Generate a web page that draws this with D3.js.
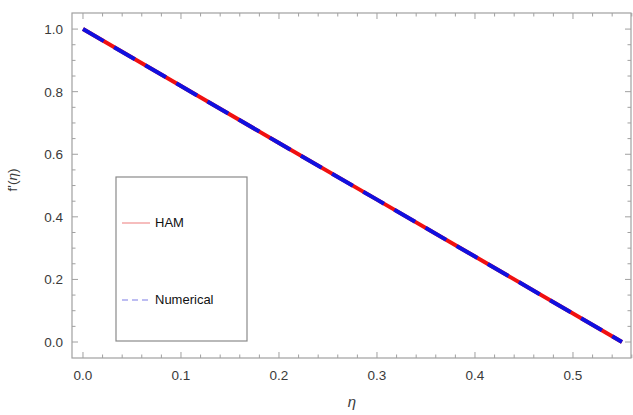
<!DOCTYPE html>
<html>
<head>
<meta charset="utf-8">
<script src="https://cdn.jsdelivr.net/npm/d3@7"></script>
<style>
  body { margin: 0; background: #fff; }
  text { font-family: "Liberation Sans", Arial, sans-serif; }
</style>
</head>
<body>
<svg id="chart" width="633" height="415"></svg>
<script>
// data: f'(eta) falls linearly from 1 at 0 to 0 at 0.55
const etaHAM = [0, 0.1, 0.2, 0.3, 0.4, 0.5, 0.55];
const fHAM = [1.0, 0.818, 0.636, 0.455, 0.273, 0.091, 0.0];
const etaNum = [0, 0.1, 0.2, 0.3, 0.4, 0.5, 0.55];
const fNum = [1.0, 0.818, 0.636, 0.455, 0.273, 0.091, 0.0];
const xTicks = [0, 0.1, 0.2, 0.3, 0.4, 0.5];
const yTicks = [0, 0.2, 0.4, 0.6, 0.8, 1.0];
const legendLabels = ['HAM', 'Numerical'];

const svg = d3.select('#chart');
const pLeft = 72, pRight = 631, pTop = 13, pBottom = 358;

const x = d3.scaleLinear().domain([-0.0112, 0.5592]).range([pLeft, pRight]);
const y = d3.scaleLinear().domain([-0.0511, 1.0514]).range([pBottom, pTop]);

const frameColor = '#a0a0a0';

// frame
svg.append('rect')
  .attr('x', pLeft).attr('y', pTop)
  .attr('width', pRight - pLeft).attr('height', pBottom - pTop)
  .attr('fill', 'none').attr('stroke', frameColor).attr('stroke-width', 1.2);

// ticks on all four sides, pointing inward
const xMinor = d3.range(0, 0.561, 0.02).filter(v => !xTicks.some(t => Math.abs(t - v) < 1e-6));
const yMinor = d3.range(0, 1.001, 0.05).filter(v => !yTicks.some(t => Math.abs(t - v) < 1e-6));

const tickG = svg.append('g').attr('stroke', frameColor).attr('stroke-width', 1);
function xTick(v, len) {
  tickG.append('line').attr('x1', x(v)).attr('x2', x(v)).attr('y1', pBottom).attr('y2', pBottom - len);
  tickG.append('line').attr('x1', x(v)).attr('x2', x(v)).attr('y1', pTop).attr('y2', pTop + len);
}
function yTick(v, len) {
  tickG.append('line').attr('y1', y(v)).attr('y2', y(v)).attr('x1', pLeft).attr('x2', pLeft + len);
  tickG.append('line').attr('y1', y(v)).attr('y2', y(v)).attr('x1', pRight).attr('x2', pRight - len);
}
xTicks.forEach(v => xTick(v, 6));
xMinor.forEach(v => xTick(v, 3.5));
yTicks.forEach(v => yTick(v, 6));
yMinor.forEach(v => yTick(v, 3.5));

// tick labels
const labelColor = '#3a3a3a';
svg.append('g').selectAll('text').data(xTicks).join('text')
  .attr('x', d => x(d)).attr('y', pBottom + 22)
  .attr('text-anchor', 'middle')
  .attr('font-size', 13.5).attr('fill', labelColor)
  .text(d => d3.format('.1f')(d));

svg.append('g').selectAll('text').data(yTicks).join('text')
  .attr('x', pLeft - 9).attr('y', d => y(d) + 5)
  .attr('text-anchor', 'end')
  .attr('font-size', 13.5).attr('fill', labelColor)
  .text(d => d3.format('.1f')(d));

// axis titles
svg.append('text')
  .attr('x', 352).attr('y', 407)
  .attr('text-anchor', 'middle')
  .attr('font-size', 15).attr('font-style', 'italic').attr('fill', labelColor)
  .text('η');

svg.append('text')
  .attr('transform', 'translate(17,180) rotate(-90)')
  .attr('text-anchor', 'middle')
  .attr('font-size', 13.5).attr('fill', labelColor)
  .html("f'(<tspan font-style='italic'>η</tspan>)");

// curves
const line = d3.line().x(d => x(d[0])).y(d => y(d[1]));
svg.append('path')
  .datum(etaHAM.map((e, i) => [e, fHAM[i]]))
  .attr('d', line)
  .attr('fill', 'none').attr('stroke', '#f01010').attr('stroke-width', 4);
svg.append('path')
  .datum(etaNum.map((e, i) => [e, fNum[i]]))
  .attr('d', line)
  .attr('fill', 'none').attr('stroke', '#1010e0').attr('stroke-width', 4)
  .attr('stroke-dasharray', '24,12');

// legend
const lg = svg.append('g');
lg.append('rect')
  .attr('x', 116).attr('y', 177).attr('width', 131).attr('height', 164)
  .attr('fill', '#fff').attr('stroke', '#8a8a8a').attr('stroke-width', 1.2);
const legendStyles = [
  { stroke: '#f29a9a', dash: null, y: 223 },
  { stroke: '#a8a8ee', dash: '6,4', y: 300 }
];
legendLabels.forEach((name, i) => {
  const s = legendStyles[i];
  lg.append('line')
    .attr('x1', 122).attr('x2', 150).attr('y1', s.y).attr('y2', s.y)
    .attr('stroke', s.stroke).attr('stroke-width', 1.3)
    .attr('stroke-dasharray', s.dash);
  lg.append('text')
    .attr('x', 155).attr('y', s.y + 4)
    .attr('font-size', 13).attr('fill', '#111')
    .text(name);
});
</script>
</body>
</html>
